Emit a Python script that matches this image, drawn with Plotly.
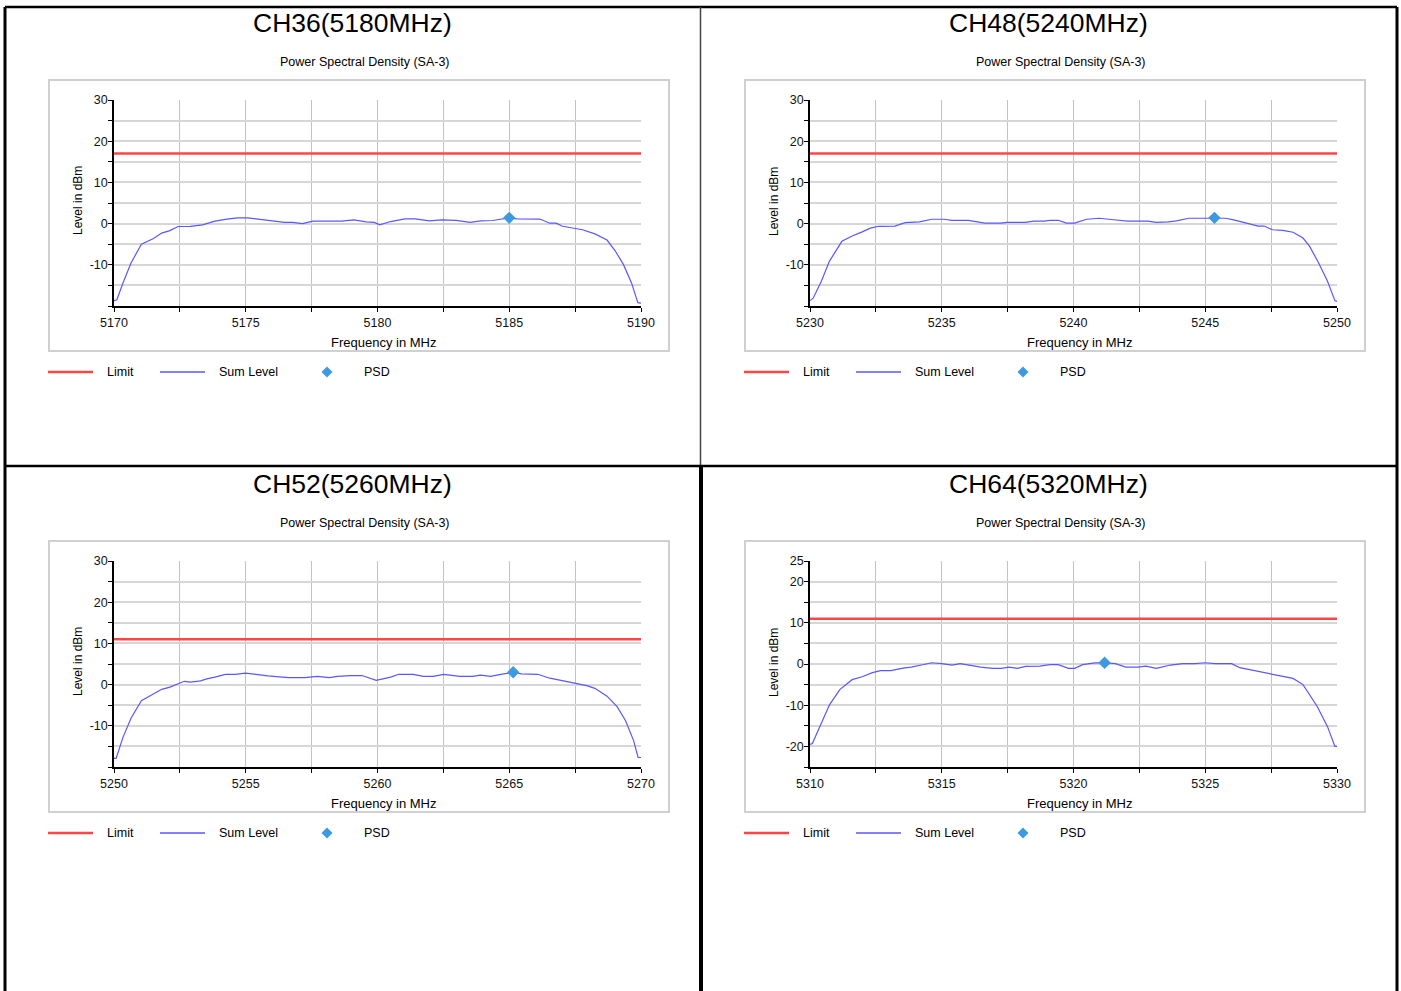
import plotly.graph_objects as go

W, H = 1401, 991

# ---------------- data ----------------
panel_titles = ["CH36(5180MHz)", "CH48(5240MHz)", "CH52(5260MHz)", "CH64(5320MHz)"]
subtitle = "Power Spectral Density (SA-3)"
x_label = "Frequency in MHz"
y_label = "Level in dBm"
legend_labels = ["Limit", "Sum Level", "PSD"]

ch36_freq = [5170.00, 5170.11, 5170.34, 5170.65, 5171.04, 5171.27, 5171.50, 5171.81, 5172.12, 5172.43,
             5172.90, 5173.36, 5173.83, 5174.29, 5174.68, 5175.07, 5175.38, 5175.84, 5176.47, 5176.78,
             5177.16, 5177.55, 5178.02, 5178.64, 5179.10, 5179.57, 5179.88, 5180.08, 5180.50, 5181.04,
             5181.43, 5181.97, 5182.43, 5182.98, 5183.52, 5183.91, 5184.37, 5184.76, 5184.99, 5185.30,
             5185.77, 5186.16, 5186.54, 5186.78, 5187.02, 5187.47, 5187.78, 5188.25, 5188.71, 5189.02,
             5189.33, 5189.64, 5189.88, 5190.00]
ch36_level = [-18.7, -18.5, -14.4, -9.5, -5.0, -4.2, -3.6, -2.3, -1.7, -0.7,
              -0.65, -0.3, 0.6, 1.1, 1.4, 1.4, 1.15, 0.9, 0.3, 0.3,
              0.0, 0.6, 0.6, 0.6, 0.9, 0.4, 0.3, -0.3, 0.5, 1.15,
              1.15, 0.65, 0.9, 0.8, 0.3, 0.65, 0.75, 1.15, 1.4, 1.15,
              1.1, 1.1, 0.1, 0.1, -0.65, -1.1, -1.5, -2.5, -4.0, -6.6,
              -9.9, -14.4, -19.2, -19.3]
ch36_limit = 17
ch36_psd_freq = [5185.0]
ch36_psd_level = [1.4]

ch48_freq = [5230.00, 5230.12, 5230.43, 5230.74, 5231.21, 5231.60, 5231.98, 5232.29, 5232.60, 5233.22,
             5233.61, 5234.15, 5234.62, 5235.08, 5235.39, 5236.01, 5236.63, 5237.25, 5237.48, 5238.18,
             5238.49, 5238.88, 5239.11, 5239.42, 5239.73, 5240.04, 5240.50, 5240.97, 5241.43, 5242.05,
             5242.83, 5243.14, 5243.60, 5243.91, 5244.38, 5245.00, 5245.34, 5245.77, 5246.08, 5246.55,
             5247.01, 5247.24, 5247.55, 5247.94, 5248.33, 5248.71, 5248.95, 5249.30, 5249.64, 5249.92,
             5250.00]
ch48_level = [-18.7, -18.1, -14.0, -9.1, -4.3, -3.0, -2.0, -1.1, -0.65, -0.6,
              0.25, 0.4, 1.05, 1.05, 0.8, 0.8, 0.1, 0.1, 0.3, 0.3,
              0.6, 0.6, 0.8, 0.8, 0.1, 0.1, 1.05, 1.3, 1.0, 0.6,
              0.6, 0.3, 0.4, 0.65, 1.3, 1.3, 1.4, 1.3, 0.9, 0.1,
              -0.6, -0.6, -1.5, -1.65, -2.1, -3.5, -5.4, -9.5, -14.0, -18.7,
              -18.9]
ch48_limit = 17
ch48_psd_freq = [5245.35]
ch48_psd_level = [1.4]

ch52_freq = [5250.00, 5250.08, 5250.34, 5250.65, 5251.04, 5251.35, 5251.81, 5252.12, 5252.43, 5252.67,
             5252.90, 5253.29, 5253.52, 5253.83, 5254.22, 5254.60, 5254.99, 5255.38, 5255.84, 5256.62,
             5257.24, 5257.71, 5258.17, 5258.48, 5258.95, 5259.41, 5259.95, 5260.50, 5260.81, 5261.35,
             5261.74, 5262.12, 5262.51, 5263.13, 5263.60, 5263.91, 5264.29, 5264.68, 5265.15, 5265.46,
             5266.08, 5266.54, 5267.01, 5267.47, 5267.94, 5268.25, 5268.71, 5269.10, 5269.41, 5269.72,
             5269.89, 5270.00]
ch52_level = [-17.9, -17.9, -12.8, -8.1, -3.9, -2.8, -1.15, -0.6, 0.25, 0.8,
              0.6, 0.9, 1.4, 1.8, 2.5, 2.5, 2.8, 2.5, 2.1, 1.7,
              1.7, 2.0, 1.7, 2.0, 2.2, 2.2, 1.05, 1.8, 2.5, 2.5,
              2.0, 2.0, 2.5, 2.0, 2.0, 2.3, 2.0, 2.5, 3.0, 2.6,
              2.5, 1.55, 1.0, 0.35, -0.25, -0.9, -2.8, -5.4, -8.7, -13.6,
              -17.7, -17.7]
ch52_limit = 11
ch52_psd_freq = [5265.15]
ch52_psd_level = [3.0]

ch64_freq = [5310.00, 5310.09, 5310.43, 5310.74, 5311.13, 5311.60, 5311.98, 5312.37, 5312.68, 5313.07,
             5313.53, 5313.84, 5314.23, 5314.62, 5315.00, 5315.39, 5315.70, 5316.01, 5316.48, 5316.94,
             5317.25, 5317.56, 5317.87, 5318.18, 5318.72, 5319.11, 5319.42, 5319.81, 5320.04, 5320.35,
             5320.81, 5321.19, 5321.59, 5321.98, 5322.44, 5322.75, 5323.14, 5323.68, 5324.14, 5324.61,
             5325.00, 5325.38, 5326.00, 5326.31, 5326.93, 5327.47, 5328.33, 5328.71, 5329.25, 5329.64,
             5329.92, 5330.00]
ch64_level = [-19.5, -19.3, -14.4, -9.9, -6.2, -3.8, -3.1, -2.1, -1.6, -1.6,
              -1.0, -0.75, -0.25, 0.3, 0.1, -0.25, 0.1, -0.25, -0.75, -1.05,
              -1.05, -0.75, -1.05, -0.6, -0.5, -0.15, -0.15, -1.05, -1.05, -0.15,
              0.25, 0.3, 0.1, -0.75, -0.75, -0.5, -1.05, -0.25, 0.1, 0.1,
              0.3, 0.1, 0.1, -0.9, -1.7, -2.4, -3.5, -5.0, -10.3, -15.2,
              -20.0, -20.0]
ch64_limit = 11
ch64_psd_freq = [5321.18]
ch64_psd_level = [0.3]

ch36_xticks = [5170, 5172.5, 5175, 5177.5, 5180, 5182.5, 5185, 5187.5, 5190]
ch48_xticks = [5230, 5232.5, 5235, 5237.5, 5240, 5242.5, 5245, 5247.5, 5250]
ch52_xticks = [5250, 5252.5, 5255, 5257.5, 5260, 5262.5, 5265, 5267.5, 5270]
ch64_xticks = [5310, 5312.5, 5315, 5317.5, 5320, 5322.5, 5325, 5327.5, 5330]
ch36_xtick_text = ["5170", "", "5175", "", "5180", "", "5185", "", "5190"]
ch48_xtick_text = ["5230", "", "5235", "", "5240", "", "5245", "", "5250"]
ch52_xtick_text = ["5250", "", "5255", "", "5260", "", "5265", "", "5270"]
ch64_xtick_text = ["5310", "", "5315", "", "5320", "", "5325", "", "5330"]

yticks_a = [-20, -15, -10, -5, 0, 5, 10, 15, 20, 25, 30]
ytick_text_a = ["", "", "-10", "", "0", "", "10", "", "20", "", "30"]
yrange_a = [-20, 30]
yticks_b = [-25, -20, -15, -10, -5, 0, 5, 10, 15, 20, 25]
ytick_text_b = ["", "-20", "", "-10", "", "0", "", "10", "", "20", "25"]
yrange_b = [-25, 25]

panels = [
    dict(title=panel_titles[0], f=ch36_freq, v=ch36_level, lim=ch36_limit, pf=ch36_psd_freq, pv=ch36_psd_level,
         xt=ch36_xticks, xtt=ch36_xtick_text, yt=yticks_a, ytt=ytick_text_a, yr=yrange_a),
    dict(title=panel_titles[1], f=ch48_freq, v=ch48_level, lim=ch48_limit, pf=ch48_psd_freq, pv=ch48_psd_level,
         xt=ch48_xticks, xtt=ch48_xtick_text, yt=yticks_a, ytt=ytick_text_a, yr=yrange_a),
    dict(title=panel_titles[2], f=ch52_freq, v=ch52_level, lim=ch52_limit, pf=ch52_psd_freq, pv=ch52_psd_level,
         xt=ch52_xticks, xtt=ch52_xtick_text, yt=yticks_a, ytt=ytick_text_a, yr=yrange_a),
    dict(title=panel_titles[3], f=ch64_freq, v=ch64_level, lim=ch64_limit, pf=ch64_psd_freq, pv=ch64_psd_level,
         xt=ch64_xticks, xtt=ch64_xtick_text, yt=yticks_b, ytt=ytick_text_b, yr=yrange_b),
]

# ---------------- styling / layout ----------------
FONT = "Arial, 'Liberation Sans', sans-serif"
RED = "#ff4646"
BLUE = "#5858ff"
PSDC = "#3d99e0"
offsets = [(0, 0), (696, 0), (0, 461), (696, 461)]


def pxx(x):
    return x / W


def pyy(y):
    return 1 - y / H


fig = go.Figure()
shapes = []
annotations = []
layout_axes = {}

for i, (p, (dx, dy)) in enumerate(zip(panels, offsets)):
    n = i + 1
    xa = "x" if n == 1 else f"x{n}"
    ya = "y" if n == 1 else f"y{n}"
    xr = [p["xt"][0], p["xt"][-1]]

    fig.add_trace(go.Scatter(x=xr, y=[p["lim"], p["lim"]], mode="lines",
                             line=dict(color=RED, width=2.5), xaxis=xa, yaxis=ya,
                             name=legend_labels[0], showlegend=False, hoverinfo="skip"))
    fig.add_trace(go.Scatter(x=p["f"], y=p["v"], mode="lines",
                             line=dict(color=BLUE, width=1.2), xaxis=xa, yaxis=ya,
                             name=legend_labels[1], showlegend=False))
    fig.add_trace(go.Scatter(x=p["pf"], y=p["pv"], mode="markers",
                             marker=dict(symbol="diamond", color=PSDC, size=9.5),
                             xaxis=xa, yaxis=ya, name=legend_labels[2], showlegend=False))

    x0, x1 = 114 + dx, 641 + dx
    y0, y1 = 100 + dy, 306 + dy
    xkey = "xaxis" if n == 1 else f"xaxis{n}"
    ykey = "yaxis" if n == 1 else f"yaxis{n}"
    layout_axes[xkey] = dict(
        domain=[pxx(x0), pxx(x1)], anchor=ya, range=xr, automargin=False,
        tickmode="array", tickvals=p["xt"], ticktext=p["xtt"],
        ticks="outside", ticklen=4, tickwidth=1.2, tickcolor="black",
        showline=True, linecolor="black", linewidth=1.5,
        showgrid=True, gridcolor="#c2c2c2", gridwidth=1.3, zeroline=False,
        tickfont=dict(family=FONT, size=12.5, color="#111"), ticklabelstandoff=0,
    )
    layout_axes[ykey] = dict(
        domain=[pyy(y1), pyy(y0)], anchor=xa, range=p["yr"], automargin=False,
        tickmode="array", tickvals=p["yt"], ticktext=p["ytt"],
        ticks="outside", ticklen=4, tickwidth=1.2, tickcolor="black",
        showline=True, linecolor="black", linewidth=1.5,
        showgrid=True, gridcolor="#d6d6d6", gridwidth=2, zeroline=False,
        tickfont=dict(family=FONT, size=12.5, color="#111"), ticklabelstandoff=-2,
    )
    # inside half of the crossing y ticks
    ok = f"yaxis{n + 4}"
    layout_axes[ok] = dict(
        domain=[pyy(y1), pyy(y0)], anchor=xa, overlaying=ya, range=p["yr"], automargin=False,
        tickmode="array", tickvals=p["yt"], ticktext=[""] * len(p["yt"]),
        ticks="inside", ticklen=5, tickwidth=1.2, tickcolor="black",
        showline=False, showgrid=False, zeroline=False, showticklabels=False,
    )

    # chart frame
    shapes.append(dict(type="rect", xref="paper", yref="paper",
                       x0=pxx(49 + dx), x1=pxx(669 + dx), y0=pyy(351 + dy), y1=pyy(80 + dy),
                       line=dict(color="#d0d0d0", width=2), layer="below"))
    # titles
    annotations.append(dict(text=p["title"], x=pxx(352.5 + dx), y=pyy(23 + dy), xref="paper", yref="paper",
                            xanchor="center", yanchor="middle", showarrow=False,
                            font=dict(family=FONT, size=26.5, color="black")))
    annotations.append(dict(text=subtitle, x=pxx(364.5 + dx), y=pyy(61.5 + dy), xref="paper", yref="paper",
                            xanchor="center", yanchor="middle", showarrow=False,
                            font=dict(family=FONT, size=12.5, color="black")))
    annotations.append(dict(text=y_label, x=pxx(78 + dx), y=pyy(201 + dy), xref="paper", yref="paper",
                            xanchor="center", yanchor="middle", showarrow=False, textangle=-90,
                            font=dict(family=FONT, size=12, color="black")))
    annotations.append(dict(text=x_label, x=pxx(383.5 + dx), y=pyy(342 + dy), xref="paper", yref="paper",
                            xanchor="center", yanchor="middle", showarrow=False,
                            font=dict(family=FONT, size=13, color="black")))
    # legend (drawn manually)
    ly = 372 + dy
    shapes.append(dict(type="line", xref="paper", yref="paper", x0=pxx(48 + dx), x1=pxx(93 + dx),
                       y0=pyy(ly), y1=pyy(ly), line=dict(color=RED, width=2.5)))
    shapes.append(dict(type="line", xref="paper", yref="paper", x0=pxx(160 + dx), x1=pxx(205 + dx),
                       y0=pyy(ly), y1=pyy(ly), line=dict(color=BLUE, width=1.3)))
    cx = 327 + dx
    r = 5.5
    shapes.append(dict(type="path", xref="paper", yref="paper",
                       path=(f"M {pxx(cx - r)} {pyy(ly)} L {pxx(cx)} {pyy(ly - r)} "
                             f"L {pxx(cx + r)} {pyy(ly)} L {pxx(cx)} {pyy(ly + r)} Z"),
                       fillcolor=PSDC, line=dict(width=0)))
    for label, lx in zip(legend_labels, [105, 217, 362]):
        annotations.append(dict(text=label, x=pxx(lx + dx), y=pyy(ly), xref="paper", yref="paper",
                                xanchor="left", yanchor="middle", showarrow=False,
                                font=dict(family=FONT, size=12.5, color="black")))

# panel borders
borders = [
    (5, 7, 1397, 7, 2.5, "black"),
    (5, 7, 5, 991, 3, "black"),
    (1397, 7, 1397, 991, 3, "black"),
    (700.5, 7, 700.5, 466, 1.5, "#444444"),
    (701, 466, 701, 991, 4, "black"),
    (5, 466, 1397, 466, 2.5, "black"),
]
for (bx0, by0, bx1, by1, bw, bc) in borders:
    shapes.append(dict(type="line", xref="paper", yref="paper", x0=pxx(bx0), x1=pxx(bx1),
                       y0=pyy(by0), y1=pyy(by1), line=dict(color=bc, width=bw)))

fig.update_layout(
    width=W, height=H, autosize=False,
    margin=dict(l=0, r=0, t=0, b=0, pad=0, autoexpand=False),
    paper_bgcolor="white", plot_bgcolor="white",
    showlegend=False, shapes=shapes, annotations=annotations,
    font=dict(family=FONT),
    **layout_axes,
)

fig.write_html("out.html", config={"displayModeBar": False},
               post_script="document.body.style.margin='0px';document.body.style.overflow='hidden';")
